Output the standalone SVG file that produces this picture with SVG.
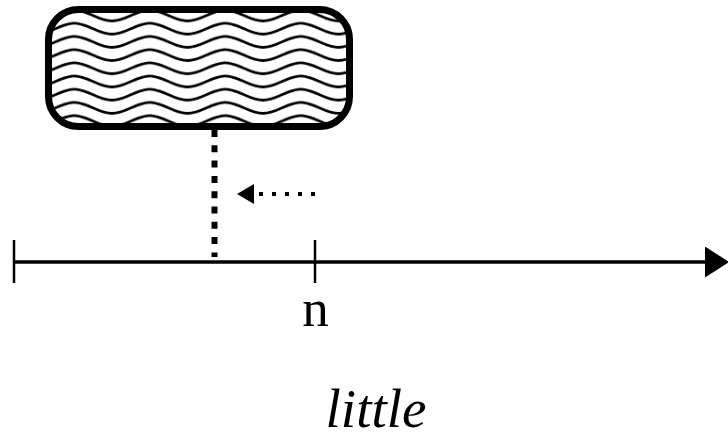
<svg xmlns="http://www.w3.org/2000/svg" width="728" height="442" viewBox="0 0 728 442">
<style>
.lbl{font-family:"Liberation Serif","Times New Roman",serif;fill:#000}
.wv{fill:none;stroke:#000;stroke-width:2.7}
</style>
<defs>
<path id="wp" d="M-75.5,9 C-61.8,9 -51.45,-2 -37.75,-2 C-24.05,-2 -13.7,9 0,9 C13.7,9 24.05,-2 37.75,-2 C51.45,-2 61.8,9 75.5,9 C89.2,9 99.55,-2 113.25,-2 C126.95,-2 137.3,9 151,9"/>
<pattern id="waves" patternUnits="userSpaceOnUse" x="112" y="12" width="75.5" height="13.2">
<use href="#wp" class="wv"/>
<use href="#wp" class="wv" y="13.2"/>
<use href="#wp" class="wv" y="-13.2"/>
</pattern>
<marker id="bigArrow" viewBox="0 0 24 31" refX="0" refY="15.5" markerWidth="24" markerHeight="31" markerUnits="userSpaceOnUse" orient="auto">
<path d="M0,0 L24,15.5 L0,31 Z" fill="#000"/>
</marker>
<marker id="smallArrow" viewBox="0 0 17 20" refX="0" refY="10" markerWidth="17" markerHeight="20" markerUnits="userSpaceOnUse" orient="auto">
<path d="M0,0 L17,10 L0,20 Z" fill="#000"/>
</marker>
</defs>
<g id="box">
<rect x="48.5" y="9.5" width="301" height="117" rx="30" ry="30" fill="url(#waves)" stroke="#000" stroke-width="7"/>
</g>
<g id="connectors">
<line x1="214.5" y1="130" x2="214.5" y2="257" stroke="#000" stroke-width="6" stroke-dasharray="7 8.3"/>
<line x1="315" y1="194" x2="254" y2="194" stroke="#000" stroke-width="4" stroke-dasharray="4 9" marker-end="url(#smallArrow)"/>
</g>
<g id="axis">
<line x1="14" y1="262" x2="705" y2="262" stroke="#000" stroke-width="3.4" marker-end="url(#bigArrow)"/>
<line x1="14" y1="240" x2="14" y2="283" stroke="#000" stroke-width="2.5"/>
<line x1="315" y1="240" x2="315" y2="283" stroke="#000" stroke-width="2.5"/>
</g>
<text class="lbl" x="315.5" y="326" font-size="53" text-anchor="middle">n</text>
<text class="lbl" x="376" y="427" font-size="55" font-style="italic" text-anchor="middle">little</text>
</svg>
